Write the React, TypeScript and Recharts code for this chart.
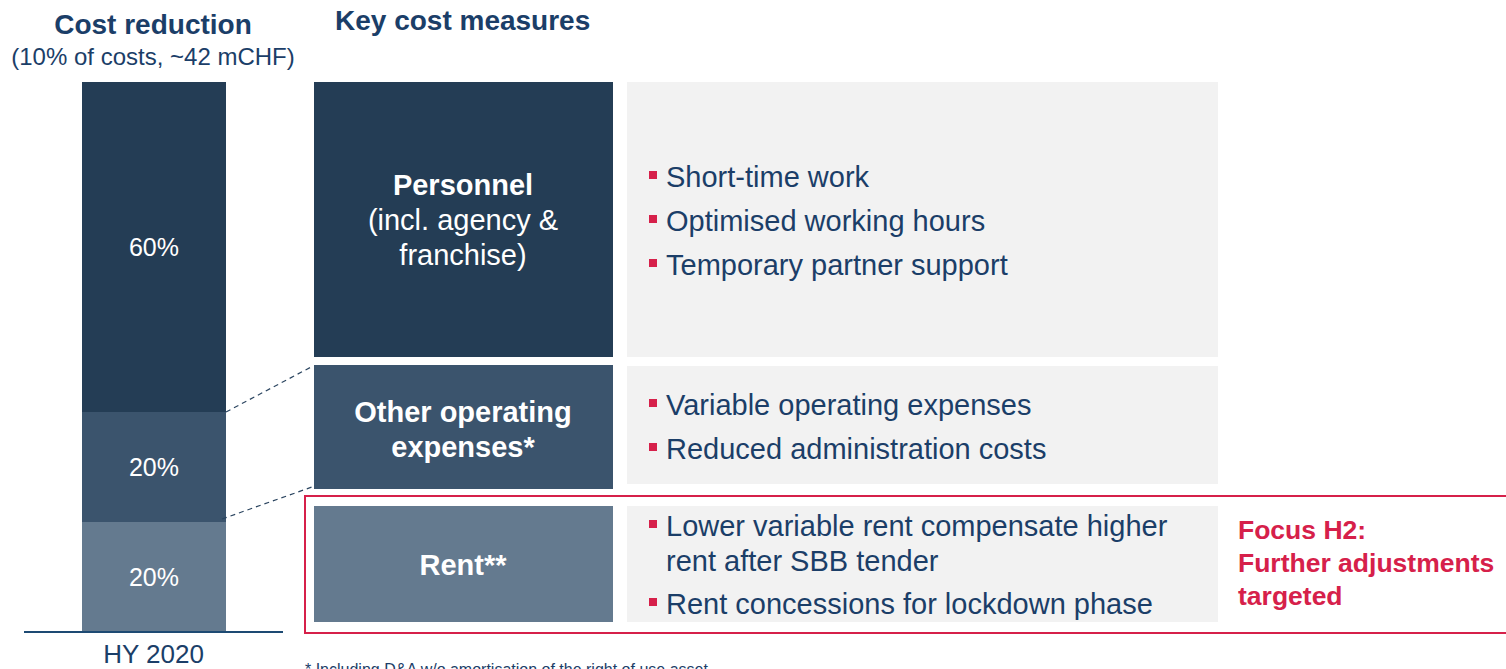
import { BarChart, Bar, XAxis, YAxis, LabelList } from "recharts";

// cost reduction split (share of total, bottom to top)
const categories = ["HY 2020"];
const rentShare = [20];
const otherShare = [20];
const personnelShare = [60];

const personnelLines = ["Personnel", "(incl. agency &", "franchise)"];
const otherLines = ["Other operating", "expenses*"];
const rentLines = ["Rent**"];

const personnelBullets = ["Short-time work", "Optimised working hours", "Temporary partner support"];
const otherBullets = ["Variable operating expenses", "Reduced administration costs"];
const rentBullets = [["Lower variable rent compensate higher", "rent after SBB tender"], ["Rent concessions for lockdown phase"]];
const focusLines = ["Focus H2:", "Further adjustments", "targeted"];

const FONT = "'Liberation Sans', Arial, sans-serif";
const NAVY = "#243d55";
const MID = "#3b546d";
const LIGHT = "#647a8f";
const TEXT = "#1b3e68";
const RED = "#d6204a";
const GREY = "#f2f2f2";

const PLOT_TOP = 82;
const PLOT_H = 550;

const chartData = categories.map((c, i) => ({
  name: c,
  rent: rentShare[i],
  other: otherShare[i],
  personnel: personnelShare[i],
}));

const pct = (v: number) => `${v}%`;

function Bullet({ x, y, text }: { x: number; y: number; text: string }) {
  return (
    <g>
      <rect x={x - 17} y={y - 16} width={8} height={8} fill={RED} />
      <text x={x} y={y} fontSize={29} fill={TEXT}>
        {text}
      </text>
    </g>
  );
}

export default function App() {
  // stack boundaries from the data, for the connector lines
  const yAt = (v: number) => PLOT_TOP + PLOT_H * (1 - v / 100);
  const topOfOther = yAt(rentShare[0] + otherShare[0]);
  const topOfRent = yAt(rentShare[0]);

  return (
    <div
      style={{
        position: "absolute",
        left: 0,
        top: 0,
        width: 1506,
        height: 669,
        overflow: "hidden",
        background: "#fff",
        fontFamily: FONT,
      }}
    >
      <div style={{ position: "absolute", left: 0, top: 0 }}>
        <BarChart
          width={310}
          height={669}
          data={chartData}
          margin={{ top: PLOT_TOP, right: 27, left: 24, bottom: 0 }}
          style={{ fontFamily: FONT }}
        >
          <XAxis
            dataKey="name"
            height={37}
            tickLine={false}
            tickMargin={7}
            axisLine={{ stroke: "#1d4a73", strokeWidth: 2 }}
            tick={{ fontSize: 26, fill: TEXT }}
          />
          <YAxis hide domain={[0, 100]} />
          <Bar dataKey="rent" stackId="a" fill={LIGHT} barSize={144} isAnimationActive={false}>
            <LabelList dataKey="rent" position="center" fill="#fff" fontSize={25} formatter={pct} />
          </Bar>
          <Bar dataKey="other" stackId="a" fill={MID} barSize={144} isAnimationActive={false}>
            <LabelList dataKey="other" position="center" fill="#fff" fontSize={25} formatter={pct} />
          </Bar>
          <Bar dataKey="personnel" stackId="a" fill={NAVY} barSize={144} isAnimationActive={false}>
            <LabelList dataKey="personnel" position="center" fill="#fff" fontSize={25} formatter={pct} />
          </Bar>
        </BarChart>
      </div>

      <svg
        width={1506}
        height={669}
        style={{ position: "absolute", left: 0, top: 0, pointerEvents: "none", fontFamily: FONT }}
      >
        {/* titles */}
        <text x={153} y={34} textAnchor="middle" fontSize={28} fontWeight="bold" fill={TEXT}>
          Cost reduction
        </text>
        <text x={153} y={65} textAnchor="middle" fontSize={24} fill={TEXT}>
          (10% of costs, ~42 mCHF)
        </text>
        <text x={335} y={30} fontSize={28} fontWeight="bold" fill={TEXT}>
          Key cost measures
        </text>

        {/* connectors */}
        <line x1={226} y1={topOfOther} x2={313} y2={366} stroke="#2b4560" strokeWidth={1.2} strokeDasharray="5 4" />
        <line x1={222} y1={topOfRent - 3} x2={312} y2={487} stroke="#2b4560" strokeWidth={1.2} strokeDasharray="5 4" />

        {/* personnel row */}
        <rect x={314} y={82} width={299} height={275} fill={NAVY} />
        <rect x={627} y={82} width={591} height={275} fill={GREY} />
        {personnelLines.map((t, i) => (
          <text key={t} x={463} y={195 + i * 35} textAnchor="middle" fontSize={29} fill="#fff" fontWeight={i === 0 ? "bold" : "normal"}>
            {t}
          </text>
        ))}
        {personnelBullets.map((t, i) => (
          <Bullet key={t} x={666} y={187 + i * 44} text={t} />
        ))}

        {/* other opex row */}
        <rect x={314} y={365} width={299} height={124} fill={MID} />
        <rect x={627} y={366} width={591} height={118} fill={GREY} />
        {otherLines.map((t, i) => (
          <text key={t} x={463} y={422 + i * 35} textAnchor="middle" fontSize={29} fill="#fff" fontWeight="bold">
            {t}
          </text>
        ))}
        {otherBullets.map((t, i) => (
          <Bullet key={t} x={666} y={415 + i * 44} text={t} />
        ))}

        {/* rent row */}
        <rect x={305} y={496} width={1210} height={137} fill="none" stroke={RED} strokeWidth={2} />
        <rect x={314} y={506} width={299} height={116} fill={LIGHT} />
        <rect x={627} y={506} width={591} height={116} fill={GREY} />
        {rentLines.map((t) => (
          <text key={t} x={463} y={575} textAnchor="middle" fontSize={29} fill="#fff" fontWeight="bold">
            {t}
          </text>
        ))}
        <Bullet x={666} y={536} text={rentBullets[0][0]} />
        <text x={666} y={571} fontSize={29} fill={TEXT}>
          {rentBullets[0][1]}
        </text>
        <Bullet x={666} y={614} text={rentBullets[1][0]} />

        {focusLines.map((t, i) => (
          <text key={t} x={1238} y={539 + i * 33} fontSize={26.5} fontWeight="bold" fill={RED}>
            {t}
          </text>
        ))}

        <text x={305} y={675} fontSize={16} fill={TEXT}>
          *  Including D&amp;A w/o amortisation of the right of use asset
        </text>
      </svg>
    </div>
  );
}
